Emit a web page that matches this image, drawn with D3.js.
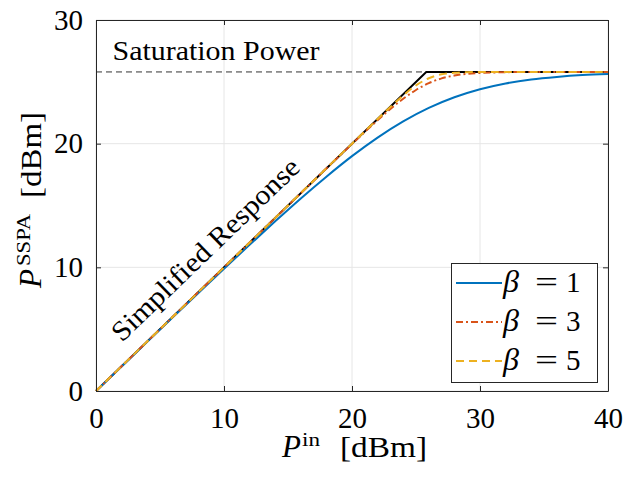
<!DOCTYPE html>
<html>
<head>
<meta charset="utf-8">
<script src="https://cdn.jsdelivr.net/npm/d3@7"></script>
<style>
  body { margin: 0; background: #fff; }
  svg { display: block; }
  text { font-family: "Liberation Serif", "DejaVu Serif", serif; fill: #000; }
</style>
</head>
<body>
<svg id="chart" width="625" height="480"></svg>
<script>
// Saturation level of the amplifier output (dBm)
const satPower = 25.8;

// Input power samples and SSPA output power for each smoothness factor beta
const pin1 = [0, 2, 4, 6, 8, 10, 12, 14, 16, 18, 20, 22, 24, 26, 28, 30, 32, 34, 36, 38, 40];
const pout1 = [0.0, 1.98, 3.97, 5.96, 7.93, 9.89, 11.82, 13.72, 15.57, 17.33, 18.99, 20.49, 21.80, 22.89, 23.75, 24.40, 24.87, 25.19, 25.40, 25.55, 25.64];

const pin3 = [0, 5, 10, 15, 19, 20, 21, 22, 23, 24, 25, 26, 27, 28, 29, 30, 32, 34, 36, 40];
const pout3 = [0.0, 5.0, 10.0, 15.0, 18.99, 19.97, 20.95, 21.90, 22.81, 23.63, 24.34, 24.89, 25.28, 25.51, 25.65, 25.72, 25.78, 25.80, 25.80, 25.80];

const pin5 = [0, 5, 10, 15, 20, 22, 23, 24, 25, 26, 27, 28, 29, 30, 32, 36, 40];
const pout5 = [0.0, 5.0, 10.0, 15.0, 20.0, 21.99, 22.97, 23.90, 24.71, 25.29, 25.61, 25.73, 25.78, 25.79, 25.80, 25.80, 25.80];

// Ideal limiter: linear up to saturation, flat afterwards
const pinSimple = [0, 25.8, 40];
const poutSimple = [0, 25.8, 25.8];

const xTicks = [0, 10, 20, 30, 40];
const yTicks = [0, 10, 20, 30];
const legendLabels = ["1", "3", "5"];

const series = [
  { x: pinSimple, y: poutSimple, color: "#000000", dash: null, curve: d3.curveLinear },
  { x: pin1, y: pout1, color: "#0072BD", dash: null, curve: d3.curveMonotoneX },
  { x: pin3, y: pout3, color: "#D95319", dash: "7,3,2,3", curve: d3.curveMonotoneX },
  { x: pin5, y: pout5, color: "#EDB120", dash: "8,5", curve: d3.curveMonotoneX }
];

const svg = d3.select("#chart");
const mLeft = 96, mRight = 608, mTop = 20, mBottom = 391;

const x = d3.scaleLinear().domain([0, 40]).range([mLeft, mRight]);
const y = d3.scaleLinear().domain([0, 30]).range([mBottom, mTop]);

// Grid
const grid = svg.append("g");
grid.selectAll(".gx").data(xTicks).join("line")
  .attr("x1", d => x(d)).attr("x2", d => x(d))
  .attr("y1", mTop).attr("y2", mBottom)
  .attr("stroke", "#e6e6e6").attr("stroke-width", 1);
grid.selectAll(".gy").data(yTicks).join("line")
  .attr("x1", mLeft).attr("x2", mRight)
  .attr("y1", d => y(d)).attr("y2", d => y(d))
  .attr("stroke", "#e6e6e6").attr("stroke-width", 1);

// Saturation reference line
svg.append("line")
  .attr("x1", x(0)).attr("x2", x(40))
  .attr("y1", y(satPower)).attr("y2", y(satPower))
  .attr("stroke", "#333").attr("stroke-width", 1)
  .attr("stroke-dasharray", "6,4");

// Curves
const plot = svg.append("g");
series.forEach(s => {
  const pts = s.x.map((v, i) => [v, s.y[i]]);
  plot.append("path")
    .datum(pts)
    .attr("fill", "none")
    .attr("stroke", s.color)
    .attr("stroke-width", 2)
    .attr("stroke-dasharray", s.dash)
    .attr("d", d3.line().x(d => x(d[0])).y(d => y(d[1])).curve(s.curve));
});

// Axes (ticks inward on all sides)
const tickLen = 5;
const axisColor = "#262626";
const axB = svg.append("g").attr("transform", `translate(0,${mBottom})`)
  .call(d3.axisBottom(x).tickValues(xTicks).tickSizeInner(-tickLen).tickSizeOuter(0));
const axT = svg.append("g").attr("transform", `translate(0,${mTop})`)
  .call(d3.axisTop(x).tickValues(xTicks).tickSizeInner(-tickLen).tickSizeOuter(0).tickFormat(""));
const axL = svg.append("g").attr("transform", `translate(${mLeft},0)`)
  .call(d3.axisLeft(y).tickValues(yTicks).tickSizeInner(-tickLen).tickSizeOuter(0));
const axR = svg.append("g").attr("transform", `translate(${mRight},0)`)
  .call(d3.axisRight(y).tickValues(yTicks).tickSizeInner(-tickLen).tickSizeOuter(0).tickFormat(""));
[axB, axT, axL, axR].forEach(a => {
  a.select(".domain").attr("stroke", axisColor).attr("stroke-width", 1);
  a.selectAll(".tick line").attr("stroke", axisColor);
  a.selectAll("text").attr("font-size", 29).attr("fill", "#000");
});
axB.selectAll("text").attr("y", 37).attr("dy", 0);
axL.selectAll("text").attr("x", -13).attr("y", 9).attr("dy", 0);

// x-axis label: P^in [dBm]
const xLab = svg.append("g");
xLab.append("text").attr("x", 282).attr("y", 457).attr("font-size", 31).attr("font-style", "italic").text("P");
xLab.append("text").attr("x", 302).attr("y", 446).attr("font-size", 19)
  .attr("textLength", 18).attr("lengthAdjust", "spacingAndGlyphs").text("in");
xLab.append("text").attr("x", 340).attr("y", 457).attr("font-size", 29)
  .attr("textLength", 87).attr("lengthAdjust", "spacingAndGlyphs").text("[dBm]");

// y-axis label: P^SSPA [dBm], reading upward
const yLab = svg.append("g").attr("transform", "translate(41,288) rotate(-90)");
yLab.append("text").attr("x", 0).attr("y", 0).attr("font-size", 31).attr("font-style", "italic").text("P");
yLab.append("text").attr("x", 22).attr("y", -11).attr("font-size", 19)
  .attr("textLength", 52).attr("lengthAdjust", "spacingAndGlyphs").text("SSPA");
yLab.append("text").attr("x", 90).attr("y", 0).attr("font-size", 29)
  .attr("textLength", 86).attr("lengthAdjust", "spacingAndGlyphs").text("[dBm]");

// Annotations
svg.append("text").attr("x", 112.5).attr("y", 59.5).attr("font-size", 28)
  .attr("textLength", 207).attr("lengthAdjust", "spacingAndGlyphs").text("Saturation Power");
svg.append("text")
  .attr("transform", "translate(205,249) rotate(-44)")
  .attr("x", -125).attr("dy", "0.35em").attr("font-size", 28)
  .attr("textLength", 250).attr("lengthAdjust", "spacingAndGlyphs")
  .text("Simplified Response");

// Legend
const lg = svg.append("g");
lg.append("rect").attr("x", 451.5).attr("y", 263.5).attr("width", 146).attr("height", 119)
  .attr("fill", "#fff").attr("stroke", axisColor).attr("stroke-width", 1);
series.slice(1).forEach((s, i) => {
  const yy = 283 + i * 39;
  const base = 292 + i * 39;
  lg.append("line").attr("x1", 456).attr("x2", 502).attr("y1", yy).attr("y2", yy)
    .attr("stroke", s.color).attr("stroke-width", 2).attr("stroke-dasharray", s.dash);
  lg.append("text").attr("x", 503).attr("y", base).attr("font-size", 32).attr("font-style", "italic").text("β");
  lg.append("text").attr("x", 535).attr("y", base).attr("font-size", 29)
    .attr("textLength", 23).attr("lengthAdjust", "spacingAndGlyphs").text("=");
  lg.append("text").attr("x", 566).attr("y", base).attr("font-size", 29).text(legendLabels[i]);
});
</script>
</body>
</html>
